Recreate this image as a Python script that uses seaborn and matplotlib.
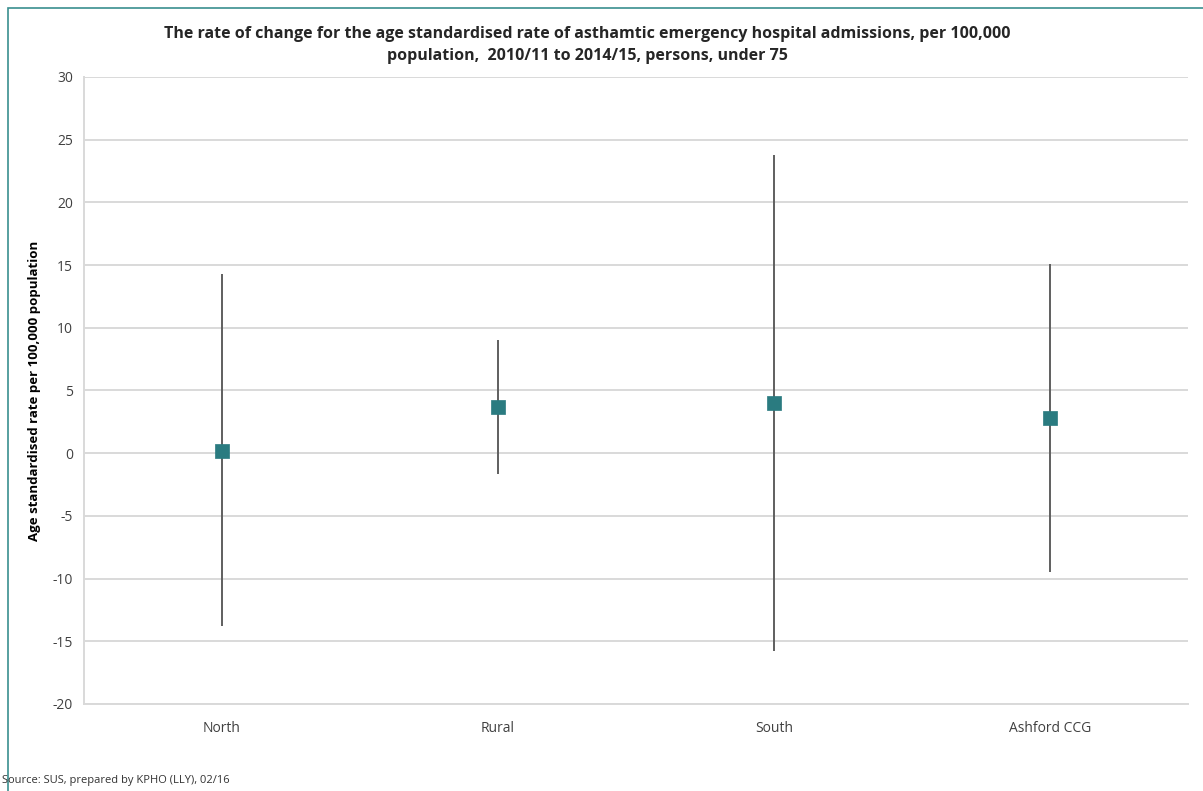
import matplotlib
matplotlib.use("Agg")
import matplotlib.pyplot as plt
from matplotlib.patches import Rectangle
import seaborn as sns
import pandas as pd

# Data: rate of change with lower/upper confidence limits
areas = ["North", "Rural", "South", "Ashford CCG"]
rate_change = [0.2, 3.7, 4.0, 2.8]
lower_ci = [-13.8, -1.7, -15.8, -9.5]
upper_ci = [14.3, 9.0, 23.8, 15.1]
y_ticks = [-20, -15, -10, -5, 0, 5, 10, 15, 20, 25, 30]

df = pd.DataFrame({"area": areas, "rate": rate_change,
                   "lower": lower_ci, "upper": upper_ci})
df["pos"] = range(len(df))

sns.set_theme(style="white")
plt.rcParams["font.family"] = ["Open Sans", "DejaVu Sans"]

fig = plt.figure(figsize=(12.03, 7.91), dpi=100)
ax = fig.add_axes([0.0698, 0.110, 0.9177, 0.7927])

# Horizontal gridlines
for t in y_ticks:
    ax.axhline(t, color="#d9d9d9", lw=1.4, zorder=0)

# Confidence interval lines
ax.vlines(df["pos"], df["lower"], df["upper"], color="#5f5f5f", lw=1.4, zorder=2)

# Point estimates
sns.scatterplot(data=df, x="pos", y="rate", marker="s", s=115, color="#2a7b80",
                edgecolor="#2a7b80", linewidth=0.5, zorder=3, ax=ax, legend=False)

ax.set_xlim(-0.5, 3.5)
ax.set_ylim(-20, 30)
ax.set_yticks(y_ticks)
ax.set_yticklabels([str(t) for t in y_ticks], fontsize=10, color="#404040")
ax.set_xticks(df["pos"])
ax.set_xticklabels(areas, fontsize=10, color="#404040")
ax.tick_params(axis="both", length=0, pad=8)
ax.tick_params(axis="x", pad=12)
ax.set_xlabel("")
ax.set_ylabel("Age standardised rate per 100,000 population", fontsize=9.5,
              fontweight="bold", color="black", labelpad=8)

for side in ["top", "right"]:
    ax.spines[side].set_visible(False)
for side in ["left", "bottom"]:
    ax.spines[side].set_color("#d9d9d9")
    ax.spines[side].set_linewidth(1.4)

fig.text(0.488, 0.943,
         "The rate of change for the age standardised rate of asthamtic emergency hospital admissions, per 100,000\n"
         "population,  2010/11 to 2014/15, persons, under 75",
         ha="center", va="center", fontsize=11.5, fontweight="bold", linespacing=1.55)

fig.text(0.002, 0.006, "Source: SUS, prepared by KPHO (LLY), 02/16",
         ha="left", va="bottom", fontsize=8, color="#333333")

# Chart frame
fig.patches.append(Rectangle((8 / 1203, -0.05), 1.2, 1 - 8 / 791 + 0.05,
                             transform=fig.transFigure, fill=False,
                             edgecolor="#3a8f8f", lw=1.2))

fig.savefig("out.png", dpi=100)
